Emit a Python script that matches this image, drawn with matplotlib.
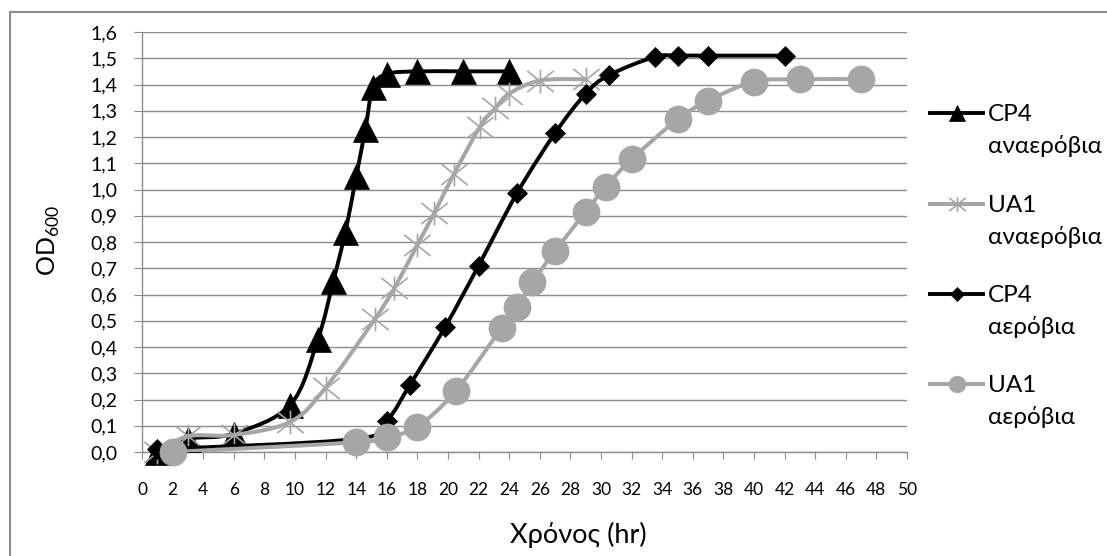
import numpy as np
import matplotlib
matplotlib.use("Agg")
import matplotlib.pyplot as plt
from matplotlib.path import Path
from matplotlib.patches import PathPatch, Rectangle
from matplotlib.lines import Line2D

plt.rcParams['font.family'] = ['Lato', 'Open Sans', 'DejaVu Sans']

# ---------------- data ----------------
cp4_an_x = [1, 3, 6, 9.7, 11.5, 12.5, 13.3, 14, 14.6, 15.1, 16, 18, 21, 24]
cp4_an_y = [0.0, 0.05, 0.07, 0.18, 0.43, 0.65, 0.84, 1.05, 1.23, 1.39, 1.44, 1.45, 1.45, 1.45]

ua1_an_x = [1, 3, 6, 9.7, 12, 15.2, 16.5, 18, 19.1, 20.4, 22.1, 23.1, 24, 26, 29]
ua1_an_y = [0.0, 0.06, 0.065, 0.115, 0.245, 0.505, 0.625, 0.79, 0.91, 1.06, 1.24, 1.31, 1.365, 1.415, 1.42]

cp4_ae_x = [1, 14, 16, 17.5, 19.8, 22, 24.5, 27, 29, 30.5, 33.5, 35, 37, 42]
cp4_ae_y = [0.01, 0.05, 0.12, 0.255, 0.475, 0.71, 0.985, 1.215, 1.365, 1.435, 1.505, 1.51, 1.51, 1.51]

ua1_ae_x = [2, 14, 16, 18, 20.5, 23.5, 24.5, 25.5, 27, 29, 30.3, 32, 35, 37, 40, 43, 47]
ua1_ae_y = [0.0, 0.037, 0.056, 0.097, 0.232, 0.473, 0.554, 0.646, 0.766, 0.915, 1.01, 1.115,
            1.267, 1.338, 1.411, 1.42, 1.42]

series_names = ["CP4\nαναερόβια", "UA1\nαναερόβια", "CP4\nαερόβια", "UA1\nαερόβια"]

x_ticks = list(range(0, 51, 2))
y_ticks = [0.0, 0.1, 0.2, 0.3, 0.4, 0.5, 0.6, 0.7, 0.8, 0.9, 1.0, 1.1, 1.2, 1.3, 1.4, 1.5, 1.6]
y_tick_labels = ["0,0", "0,1", "0,2", "0,3", "0,4", "0,5", "0,6", "0,7", "0,8",
                 "0,9", "1,0", "1,1", "1,2", "1,3", "1,4", "1,5", "1,6"]
x_label = "Χρόνος (hr)"
y_label = r"OD$_{\mathregular{600}}$"

# ---------------- style ----------------
W, H = 1107, 556
BLACK = "#000000"
GRAY = "#A6A6A6"
GRID = "#8C8C8C"

# asterisk marker (vertical bar + X)
ast = Path([(0, -0.9), (0, 0.9), (-1, -0.8), (1, 0.8), (-1, 0.8), (1, -0.8)],
           [Path.MOVETO, Path.LINETO, Path.MOVETO, Path.LINETO, Path.MOVETO, Path.LINETO])

styles = [
    dict(color=BLACK, marker='^', ms=18, mec=BLACK, mfc=BLACK, mew=0.5, lw=2.8),
    dict(color=GRAY, marker=ast, ms=19, mec=GRAY, mfc='none', mew=1.2, lw=2.9),
    dict(color=BLACK, marker='D', ms=10, mec=BLACK, mfc=BLACK, mew=0.5, lw=2.8),
    dict(color=GRAY, marker='o', ms=19.5, mec=GRAY, mfc=GRAY, mew=0.5, lw=2.9),
]
legend_ms = [12, 12, 7.5, 12]


def smooth_path(xs, ys):
    """Excel-style smoothed line: cubic Bezier segments through the points."""
    p = np.column_stack([xs, ys]).astype(float)
    n = len(p)
    verts = [p[0]]
    codes = [Path.MOVETO]
    for i in range(n - 1):
        p0 = p[i - 1] if i > 0 else p[i]
        p1 = p[i]
        p2 = p[i + 1]
        p3 = p[i + 2] if i + 2 < n else p[i + 1]
        c1 = p1 + (p2 - p0) / 6.0
        c2 = p2 - (p3 - p1) / 6.0
        verts += [c1, c2, p2]
        codes += [Path.CURVE4] * 3
    return Path(np.array(verts), codes)


fig = plt.figure(figsize=(W / 100, H / 100), dpi=100)
ax = fig.add_axes([142 / W, 1 - 452 / H, (907 - 142) / W, (452 - 32) / H])

data = [(cp4_an_x, cp4_an_y), (ua1_an_x, ua1_an_y), (cp4_ae_x, cp4_ae_y), (ua1_ae_x, ua1_ae_y)]
for k, ((xs, ys), st) in enumerate(zip(data, styles)):
    z = 3 + k
    patch = PathPatch(smooth_path(xs, ys), fill=False, edgecolor=st['color'], lw=st['lw'],
                      capstyle='round', joinstyle='round', zorder=z)
    ax.add_patch(patch)
    ax.plot(xs, ys, linestyle='none', marker=st['marker'], ms=st['ms'], mec=st['mec'],
            mfc=st['mfc'], mew=st['mew'], zorder=z + 0.5, clip_on=False)

ax.set_xlim(0, 50)
ax.set_ylim(0, 1.6)
ax.set_xticks(x_ticks)
ax.set_xticklabels([str(v) for v in x_ticks])
ax.set_yticks(y_ticks)
ax.set_yticklabels(y_tick_labels)

ax.grid(axis='y', color=GRID, lw=1.0, zorder=0)
ax.set_axisbelow(True)
for s in ['top', 'right']:
    ax.spines[s].set_visible(False)
for s in ['left', 'bottom']:
    ax.spines[s].set_color(GRID)
    ax.spines[s].set_linewidth(1.0)
ax.tick_params(axis='y', direction='out', length=5.8, width=0.8, color=GRID,
               pad=12, labelsize=14)
ax.tick_params(axis='x', direction='out', length=4.8, width=0.8, color=GRID,
               pad=16.5, labelsize=12.5)

# axis titles
fig.text(578 / W, 1 - 543 / H, x_label, ha='center', va='baseline', fontsize=19.5)
fig.text(49 / W, 1 - 240 / H, y_label, ha='center', va='center', rotation=90, fontsize=18)

# legend (drawn in figure pixel space)
leg_y = [113, 203.5, 293.5, 383.5]
for name, st, y, lms in zip(series_names, styles, leg_y, legend_ms):
    yf = 1 - y / H
    ln = Line2D([930 / W, 956.5 / W, 983 / W], [yf, yf, yf], transform=fig.transFigure,
                color=st['color'], lw=st['lw'], marker=st['marker'], ms=lms,
                mec=st['mec'], mfc=st['mfc'], mew=st['mew'], markevery=[1])
    fig.add_artist(ln)
    l1, l2 = name.split("\n")
    fig.text(988 / W, 1 - (y + 8) / H, l1, ha='left', va='baseline', fontsize=17.5)
    fig.text(988 / W, 1 - (y + 40) / H, l2, ha='left', va='baseline', fontsize=17.5)

# chart-area border
fig.add_artist(Rectangle((10 / W, -0.05), 1.1, 1 - 12 / H + 0.05, transform=fig.transFigure,
                         fill=False, edgecolor=GRID, lw=1.5))

fig.savefig("out.png", dpi=100)
